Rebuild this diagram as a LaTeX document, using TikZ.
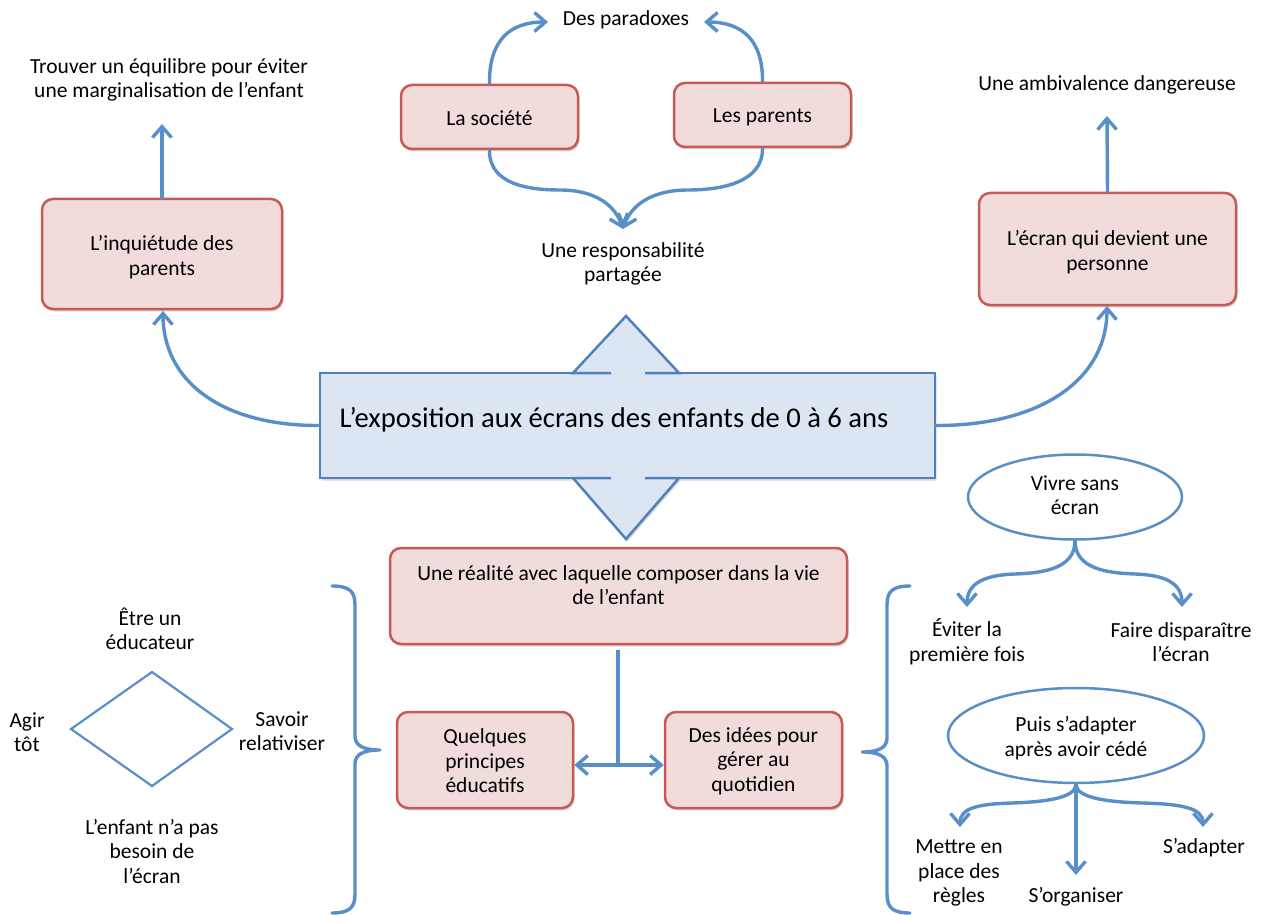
\documentclass[tikz,border=0pt]{standalone}
\usepackage{fontspec}
\setmainfont{Carlito}
\usetikzlibrary{arrows.meta,shapes.geometric,shadows}
\definecolor{boxfill}{RGB}{242,220,219}
\definecolor{boxdraw}{RGB}{200,90,85}
\definecolor{connc}{RGB}{88,143,201}
\definecolor{cfill}{RGB}{220,230,242}
\definecolor{cdraw}{RGB}{79,129,189}
\begin{document}
\begin{tikzpicture}[x=1pt,y=-1pt,
  txt/.style={font=\fontsize{21.5}{24.5}\selectfont, align=center, inner sep=0pt, text=black},
  bigtxt/.style={font=\fontsize{28.6}{34}\selectfont, inner sep=0pt, text=black},
  box/.style={draw=boxdraw, fill=boxfill, line width=2.5pt, rounded corners=11pt, inner sep=0pt,
    drop shadow={shadow xshift=1.5pt, shadow yshift=-2.5pt, opacity=0.25, fill=black!60}},
  oval/.style={ellipse, draw=connc, fill=white, line width=2.5pt, inner sep=0pt},
  conn/.style={draw=connc, line width=3.4pt, line cap=round},
  tip/.style={-{Straight Barb[length=11pt,width=19pt,line width=3.4pt]}},
  dtip/.style={{Straight Barb[length=11pt,width=19pt,line width=3.4pt]}-{Straight Barb[length=11pt,width=19pt,line width=3.4pt]}},
  brace/.style={draw=connc, line width=3.4pt, line cap=round, line join=round}
]
\useasboundingbox (0,0) rectangle (1270,915);

% ---------- top centre ----------
\node[box, minimum width=177, minimum height=64] (soc) at (489.5,117) {};
\node[txt] (soct) at (489.5,118) {La société};
\node[box, minimum width=177, minimum height=64] (par) at (762.5,115) {};
\node[txt] (part) at (762.5,117) {Les parents};
\node[txt] (parad) at (626,20) {Des paradoxes};
\node[txt] (resp) at (623,264) {Une responsabilité\\partagée};
\coordinate (pl) at (548,22);
\coordinate (pr) at (704,22);
\coordinate (rtip) at (623,229);
\draw[conn,tip] (soc.north) .. controls (489,40) and (510,22) .. (pl);
\draw[conn,tip] (par.north) .. controls (763,40) and (742,22) .. (pr);
\draw[conn,tip] (soc.south) .. controls (489,185) and (530,190) .. (560,190) .. controls (595,190) and (615,205) .. (rtip);
\draw[conn,tip] (par.south) .. controls (763,183) and (720,190) .. (688,190) .. controls (652,190) and (631,205) .. (rtip);

% ---------- left top ----------
\node[box, minimum width=240, minimum height=110] (inq) at (162,254) {};
\node[txt] (inqt) at (162,257) {L’inquiétude des\\parents};
\node[txt] (trouv) at (169,80) {Trouver un équilibre pour éviter\\une marginalisation de l’enfant};
\coordinate (trouvA) at (162,124);
\draw[conn,tip] (inq.north) -- (trouvA);

% ---------- right top ----------
\node[box, minimum width=257, minimum height=112] (ecr) at (1107.5,249) {};
\node[txt] (ecrt) at (1107.5,252) {L’écran qui devient une\\personne};
\node[txt] (ambi) at (1107,85) {Une ambivalence dangereuse};
\coordinate (ambiA) at (1107,116);
\draw[conn,tip] (ecr.north) -- (ambiA);

% ---------- central box ----------
\node[minimum width=615, minimum height=105, inner sep=0pt] (cen) at (627.5,425.5) {};
\fill[cfill, drop shadow={shadow xshift=1.5pt, shadow yshift=-2.5pt, opacity=0.25, fill=black!60}]
  (320,373) -- (573,373) -- (626,316) -- (679,373) -- (935,373) -- (935,478) -- (679,478)
  -- (626,539) -- (573,478) -- (320,478) -- cycle;
\draw[cdraw, line width=2.5pt, line join=miter]
  (611,373) -- (320,373) -- (320,478) -- (611,478);
\draw[cdraw, line width=2.5pt, line join=miter]
  (645,373) -- (935,373) -- (935,478) -- (645,478);
\draw[cdraw, line width=2.5pt, line join=miter]
  (611,373) -- (573,373) -- (626,316) -- (679,373) -- (645,373);
\draw[cdraw, line width=2.5pt, line join=miter]
  (611,478) -- (573,478) -- (626,539) -- (679,478) -- (645,478);
\node[bigtxt] (cent) at (614,420) {L’exposition aux écrans des enfants de 0 à 6 ans};

\coordinate (inqB) at (163,311);
\coordinate (ecrB) at (1107,306);
\draw[conn,tip] (cen.west) .. controls (220,426) and (163,380) .. (inqB);
\draw[conn,tip] (cen.east) .. controls (1040,426) and (1107,380) .. (ecrB);

% ---------- bottom centre ----------
\node[box, minimum width=457, minimum height=96] (real) at (618.5,596) {};
\node[txt] (realt) at (618.5,585) {Une réalité avec laquelle composer dans la vie\\de l’enfant};
\node[box, minimum width=176, minimum height=96] (quel) at (485,760) {};
\node[txt] (quelt) at (485,761) {Quelques\\principes\\éducatifs};
\node[box, minimum width=177, minimum height=96] (idee) at (753.5,760) {};
\node[txt] (ideet) at (753.5,761) {Des idées pour\\gérer au\\quotidien};
\coordinate (vtop) at (618,650);
\coordinate (vbot) at (618,765);
\draw[conn, line cap=butt] (vtop) -- (vbot);
\draw[conn,dtip] (quel.east |- vbot) -- (idee.west |- vbot);

% ---------- left bottom ----------
\draw[brace] (332,586) .. controls (349,586) and (355,591) .. (355,605) -- (355,736)
  .. controls (355,746) and (364,750) .. (380,750)
  .. controls (364,750) and (355,754) .. (355,764) -- (355,894)
  .. controls (355,908) and (349,913) .. (332,913);
\draw[draw=connc, line width=2.2pt, line join=miter] (71,729) -- (152,672) -- (232,729) -- (152,786) -- cycle;
\node[txt] (etre) at (150,629) {Être un\\éducateur};
\node[txt] (agir) at (27,732) {Agir\\tôt};
\node[txt] (savoir) at (282,731) {Savoir\\relativiser};
\node[txt] (enfb) at (152,851) {L’enfant n’a pas\\besoin de\\l’écran};

% ---------- right bottom ----------
\draw[brace] (910,586) .. controls (893,586) and (887,591) .. (887,605) -- (887,738)
  .. controls (887,748) and (878,752) .. (862,752)
  .. controls (878,752) and (887,756) .. (887,766) -- (887,894)
  .. controls (887,908) and (893,913) .. (910,913);
\node[oval, minimum width=214, minimum height=85] (vivre) at (1075,497) {};
\node[txt] (vivret) at (1075,495) {Vivre sans\\écran};
\node[txt] (evit) at (967,642) {Éviter la\\première fois};
\node[txt] (faire) at (1181,642) {Faire disparaître\\l’écran};
\coordinate (evA) at (967,607);
\coordinate (faA) at (1182,607);
\draw[conn,tip] (vivre.south) .. controls (1075,568) and (1045,573) .. (1015,574) .. controls (985,575) and (967,583) .. (evA);
\draw[conn,tip] (vivre.south) .. controls (1075,568) and (1105,573) .. (1135,574) .. controls (1165,575) and (1182,583) .. (faA);

\node[oval, minimum width=256, minimum height=95] (puis) at (1076,735.5) {};
\node[txt] (puist) at (1076,738) {Puis s’adapter\\après avoir cédé};
\node[txt] (mett) at (959,873) {Mettre en\\place des\\règles};
\node[txt] (org) at (1076,897) {S’organiser};
\node[txt] (adap) at (1204,848) {S’adapter};
\coordinate (meA) at (960,827);
\coordinate (orA) at (1076,875);
\coordinate (adA) at (1203,827);
\draw[conn,tip] (puis.south) .. controls (1076,798) and (1045,802) .. (1012,803) .. controls (978,804) and (960,808) .. (meA);
\draw[conn,tip] (puis.south) -- (orA);
\draw[conn,tip] (puis.south) .. controls (1076,798) and (1108,802) .. (1142,803) .. controls (1182,804) and (1203,808) .. (adA);
\end{tikzpicture}
\end{document}
